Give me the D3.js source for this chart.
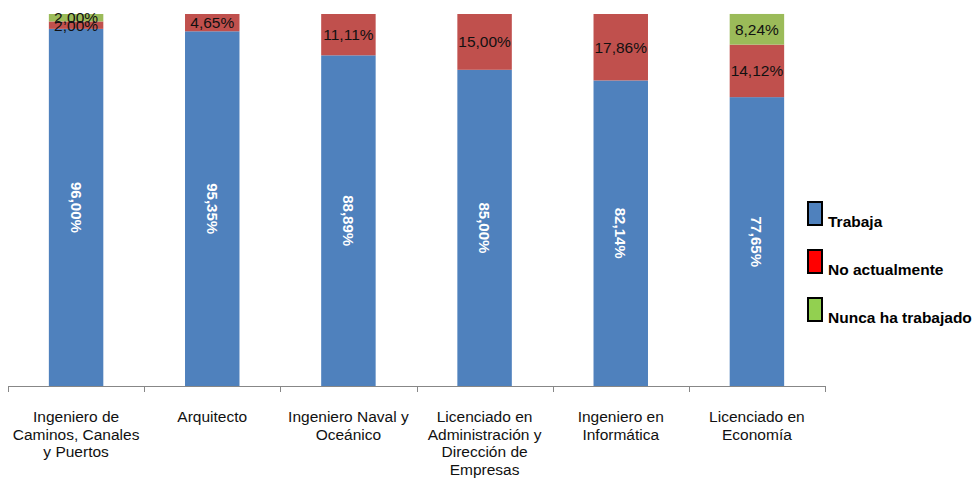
<!DOCTYPE html>
<html>
<head>
<meta charset="utf-8">
<script src="https://cdn.jsdelivr.net/npm/d3@7"></script>
<style>
	body { margin: 0; background: #fff; }
	svg { display: block; font-family: "Liberation Sans", Arial, sans-serif; }
</style>
</head>
<body>
<svg id="chart" width="976" height="479"></svg>
<script>
// categories (one array per line of the wrapped label)
const categories = [
	['Ingeniero de', 'Caminos, Canales', 'y Puertos'],
	['Arquitecto'],
	['Ingeniero Naval y', 'Oceánico'],
	['Licenciado en', 'Administración y', 'Dirección de', 'Empresas'],
	['Ingeniero en', 'Informática'],
	['Licenciado en', 'Economía']
];
const seriesNames = ['Trabaja', 'No actualmente', 'Nunca ha trabajado'];
const trabaja = [96.00, 95.35, 88.89, 85.00, 82.14, 77.65];
const noActualmente = [2.00, 4.65, 11.11, 15.00, 17.86, 14.12];
const nuncaTrabajado = [2.00, 0, 0, 0, 0, 8.24];

const barColors = ['#4f81bd', '#c0504d', '#9bbb59'];
const legendColors = ['#4f81bd', '#ff0000', '#92d050'];

const svg = d3.select('#chart');
const plot = {left: 8, right: 825, top: 14, bottom: 386};

let rows = categories.map((c, i) => ({
	idx: i,
	Trabaja: trabaja[i],
	'No actualmente': noActualmente[i],
	'Nunca ha trabajado': nuncaTrabajado[i]
}));

let x = d3.scaleBand()
	.domain(rows.map(d => d.idx))
	.range([plot.left, plot.right])
	.paddingInner(0.6)
	.paddingOuter(0.3);
let y = d3.scaleLinear().domain([0, 100]).range([plot.bottom, plot.top]);

let stacked = d3.stack().keys(seriesNames)(rows);

let fmt = v => v.toFixed(2).replace('.', ',') + '%';

let layers = svg.append('g').selectAll('g').data(stacked).enter()
	.append('g')
	.attr('fill', (d, i) => barColors[i]);

layers.selectAll('rect').data(d => d).enter()
	.append('rect')
	.attr('x', d => x(d.data.idx))
	.attr('width', x.bandwidth())
	.attr('y', d => y(d[1]))
	.attr('height', d => y(d[0]) - y(d[1]));

// labels in blue segment (rotated, white bold)
svg.append('g').selectAll('text').data(stacked[0]).enter()
	.append('text')
	.attr('transform', d => `translate(${x(d.data.idx) + x.bandwidth() / 2}, ${(y(d[0]) + y(d[1])) / 2}) rotate(90)`)
	.attr('text-anchor', 'middle')
	.attr('dominant-baseline', 'central')
	.attr('fill', '#fff')
	.attr('font-weight', 'bold')
	.attr('font-size', 15)
	.text(d => fmt(d[1] - d[0]));

// labels for red and green segments
[stacked[1], stacked[2]].forEach(layer => {
	svg.append('g').selectAll('text').data(layer.filter(d => d[1] - d[0] > 0)).enter()
		.append('text')
		.attr('x', d => x(d.data.idx) + x.bandwidth() / 2)
		.attr('y', d => (y(d[0]) + y(d[1])) / 2)
		.attr('text-anchor', 'middle')
		.attr('dominant-baseline', 'central')
		.attr('fill', '#111')
		.attr('font-size', 15.5)
		.text(d => fmt(d[1] - d[0]));
});

// category axis
let axisG = svg.append('g').attr('stroke', '#878787').attr('stroke-width', 1);
axisG.append('line')
	.attr('x1', plot.left).attr('x2', plot.right)
	.attr('y1', plot.bottom + 0.5).attr('y2', plot.bottom + 0.5);
let tickXs = d3.range(categories.length + 1).map(i => plot.left + i * (plot.right - plot.left) / categories.length);
axisG.selectAll('.tick').data(tickXs).enter()
	.append('line')
	.attr('x1', d => Math.round(d) + 0.5).attr('x2', d => Math.round(d) + 0.5)
	.attr('y1', plot.bottom).attr('y2', plot.bottom + 6);

let catLabels = svg.append('g').selectAll('text').data(rows).enter()
	.append('text')
	.attr('x', d => x(d.idx) + x.bandwidth() / 2)
	.attr('y', 422)
	.attr('text-anchor', 'middle')
	.attr('font-size', 15.5)
	.attr('fill', '#111');
catLabels.selectAll('tspan').data(d => categories[d.idx]).enter()
	.append('tspan')
	.attr('x', function() { return d3.select(this.parentNode).attr('x'); })
	.attr('dy', (d, i) => i == 0 ? 0 : 17.6)
	.text(d => d);

// legend
let legend = svg.append('g').selectAll('g').data(seriesNames).enter()
	.append('g')
	.attr('transform', (d, i) => `translate(808, ${202 + i * 48})`);
legend.append('rect')
	.attr('width', 14).attr('height', 23)
	.attr('fill', (d, i) => legendColors[i])
	.attr('stroke', '#000').attr('stroke-width', 2);
legend.append('text')
	.attr('x', 20).attr('y', 25)
	.attr('font-size', 15.5)
	.attr('font-weight', 'bold')
	.attr('fill', '#000')
	.text(d => d);
</script>
</body>
</html>
